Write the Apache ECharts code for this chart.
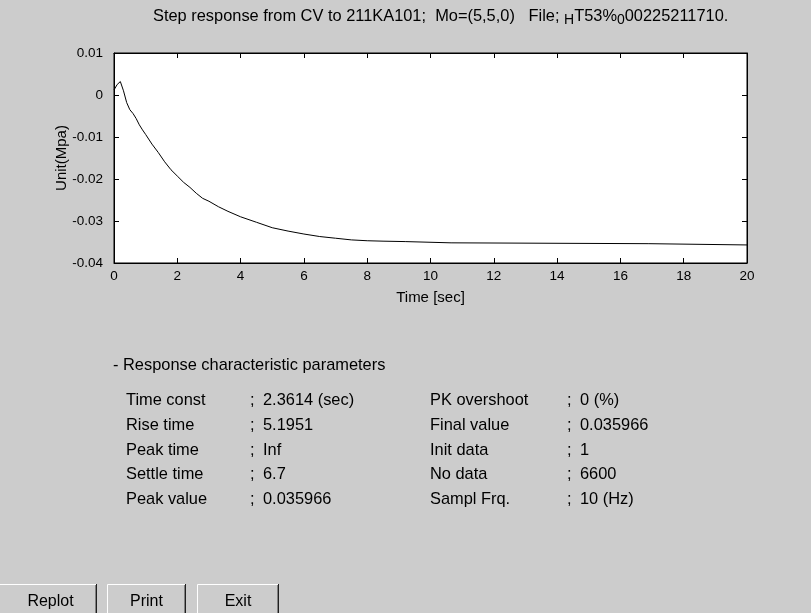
<!DOCTYPE html>
<html>
<head>
<meta charset="utf-8">
<script src="https://cdn.jsdelivr.net/npm/echarts@6/dist/echarts.min.js"></script>
<style>
  html, body { margin: 0; padding: 0; background: #cccccc; }
  #chart { width: 811px; height: 613px; }
</style>
</head>
<body>
<div id="chart"></div>
<script>
// Step response samples (time in seconds, response in MPa)
const timeSec = [0, 0.1, 0.2, 0.3, 0.4, 0.5, 0.6, 0.7, 0.8, 0.9, 1.0, 1.2, 1.4, 1.6, 1.8, 2.0,
  2.2, 2.4, 2.6, 2.8, 3.0, 3.3, 3.6, 4.0, 4.5, 5.0, 5.5, 6.0, 6.5, 7.0, 7.5, 8.0, 8.5,
  9.2, 9.25, 10.65, 10.7, 16.9, 16.95, 20];
const response = [0.0012, 0.0025, 0.0032, 0.0010, -0.0018, -0.0035, -0.0044, -0.0056, -0.0071,
  -0.0083, -0.0094, -0.0117, -0.0137, -0.0159, -0.0178, -0.0193, -0.0208, -0.0220, -0.0234,
  -0.0246, -0.0253, -0.0266, -0.0277, -0.0290, -0.0303, -0.0316, -0.0324, -0.0331, -0.0337,
  -0.0341, -0.0345, -0.0347, -0.0348, -0.0349, -0.0352, -0.0352, -0.0354, -0.0354, -0.0357, -0.0357];

// Response characteristic parameters
const leftLabels = ['Time const', 'Rise time', 'Peak time', 'Settle time', 'Peak value'];
const leftValues = ['2.3614 (sec)', '5.1951', 'Inf', '6.7', '0.035966'];
const rightLabels = ['PK overshoot', 'Final value', 'Init data', 'No data', 'Sampl Frq.'];
const rightValues = ['0 (%)', '0.035966', '1', '6600', '10 (Hz)'];

const buttonLabels = ['Replot', 'Print', 'Exit'];

const series = timeSec.map((t, i) => [t, response[i]]);

const uiFont = 'Liberation Sans, Arial, sans-serif';
const textFont = '16.4px ' + uiFont;

const graphic = [];

// Title with subscripted characters
graphic.push({
  type: 'text', left: 153, top: 8,
  style: {
    text: 'Step response from CV to 211KA101;  Mo=(5,5,0)   File; {s|H}T53%{s|0}00225211710.',
    font: textFont, fill: '#000',
    rich: { s: { fontSize: 14, fontFamily: uiFont, padding: [9, 0, 0, 0], fill: '#000' } }
  }
});

graphic.push({
  type: 'text', left: 113, top: 357.5,
  style: { text: '- Response characteristic parameters', font: textFont, fill: '#000' }
});

const rowTop = 392.5, rowStep = 24.75;
function addRow(labels, values, xLabel, xSemi, xValue) {
  labels.forEach((s, i) => {
    const y = rowTop + i * rowStep;
    graphic.push({ type: 'text', left: xLabel, top: y, style: { text: s, font: textFont, fill: '#000' } });
    graphic.push({ type: 'text', left: xSemi, top: y, style: { text: ';', font: textFont, fill: '#000' } });
    graphic.push({ type: 'text', left: xValue, top: y, style: { text: values[i], font: textFont, fill: '#000' } });
  });
}
addRow(leftLabels, leftValues, 126, 250, 263);
addRow(rightLabels, rightValues, 430, 567, 580);

// Push buttons along the bottom edge
const btnX = [-4, 107, 197], btnW = [101, 79, 82], btnTop = 584;
buttonLabels.forEach((s, i) => {
  const x = btnX[i], w = btnW[i];
  graphic.push({ type: 'rect', shape: { x: x, y: btnTop, width: w, height: 40 },
    style: { fill: '#cccccc', stroke: null } });
  graphic.push({ type: 'line', shape: { x1: x + 0.5, y1: btnTop + 0.5, x2: x + w - 1, y2: btnTop + 0.5 },
    style: { stroke: '#ffffff', lineWidth: 1 } });
  graphic.push({ type: 'line', shape: { x1: x + 0.5, y1: btnTop + 0.5, x2: x + 0.5, y2: 613 },
    style: { stroke: '#ffffff', lineWidth: 1 } });
  graphic.push({ type: 'line', shape: { x1: x + w - 1.5, y1: btnTop + 1, x2: x + w - 1.5, y2: 613 },
    style: { stroke: '#808080', lineWidth: 1 } });
  graphic.push({ type: 'line', shape: { x1: x + w - 0.5, y1: btnTop, x2: x + w - 0.5, y2: 613 },
    style: { stroke: '#202020', lineWidth: 1 } });
  graphic.push({ type: 'text', x: x + w / 2 + (i === 0 ? 4 : 0), y: 602,
    style: { text: s, font: '16px ' + uiFont, fill: '#000', align: 'center', verticalAlign: 'middle' } });
});

const chart = echarts.init(document.getElementById('chart'), null, { renderer: 'canvas' });

const tickStyle = { show: true, inside: true, length: 5, lineStyle: { color: '#000', width: 1 } };
const lineStyle = { show: true, onZero: false, lineStyle: { color: '#000', width: 1 } };
const tickLabel = { fontFamily: uiFont, fontSize: 13.5, color: '#000' };

chart.setOption({
  backgroundColor: '#cccccc',
  animation: false,
  grid: {
    left: 114, right: 64, top: 53, bottom: 350,
    show: true, backgroundColor: '#ffffff', borderColor: '#000', borderWidth: 1
  },
  graphic: graphic,
  xAxis: [{
    type: 'value', min: 0, max: 20, interval: 2, position: 'bottom',
    name: 'Time [sec]', nameLocation: 'middle', nameGap: 27, nameMoveOverlap: false,
    nameTextStyle: { fontFamily: uiFont, fontSize: 15, color: '#000' },
    axisLine: lineStyle, axisTick: tickStyle, splitLine: { show: false },
    axisLabel: Object.assign({ margin: 6 }, tickLabel)
  }, {
    type: 'value', min: 0, max: 20, interval: 2, position: 'top',
    axisLine: lineStyle, axisTick: tickStyle, splitLine: { show: false },
    axisLabel: { show: false }
  }],
  yAxis: [{
    type: 'value', min: -0.04, max: 0.01, interval: 0.01, position: 'left',
    name: 'Unit(Mpa)', nameLocation: 'middle', nameGap: 45, nameMoveOverlap: false,
    nameTextStyle: { fontFamily: uiFont, fontSize: 15, color: '#000' },
    axisLine: lineStyle, axisTick: tickStyle, splitLine: { show: false },
    axisLabel: Object.assign({
      margin: 11,
      formatter: v => String(Math.round(v * 100) / 100)
    }, tickLabel)
  }, {
    type: 'value', min: -0.04, max: 0.01, interval: 0.01, position: 'right',
    axisLine: lineStyle, axisTick: tickStyle, splitLine: { show: false },
    axisLabel: { show: false }
  }],
  series: [{
    type: 'line', data: series, xAxisIndex: 0, yAxisIndex: 0,
    showSymbol: false, symbol: 'none',
    lineStyle: { color: '#000', width: 1 }
  }]
});
</script>
</body>
</html>
